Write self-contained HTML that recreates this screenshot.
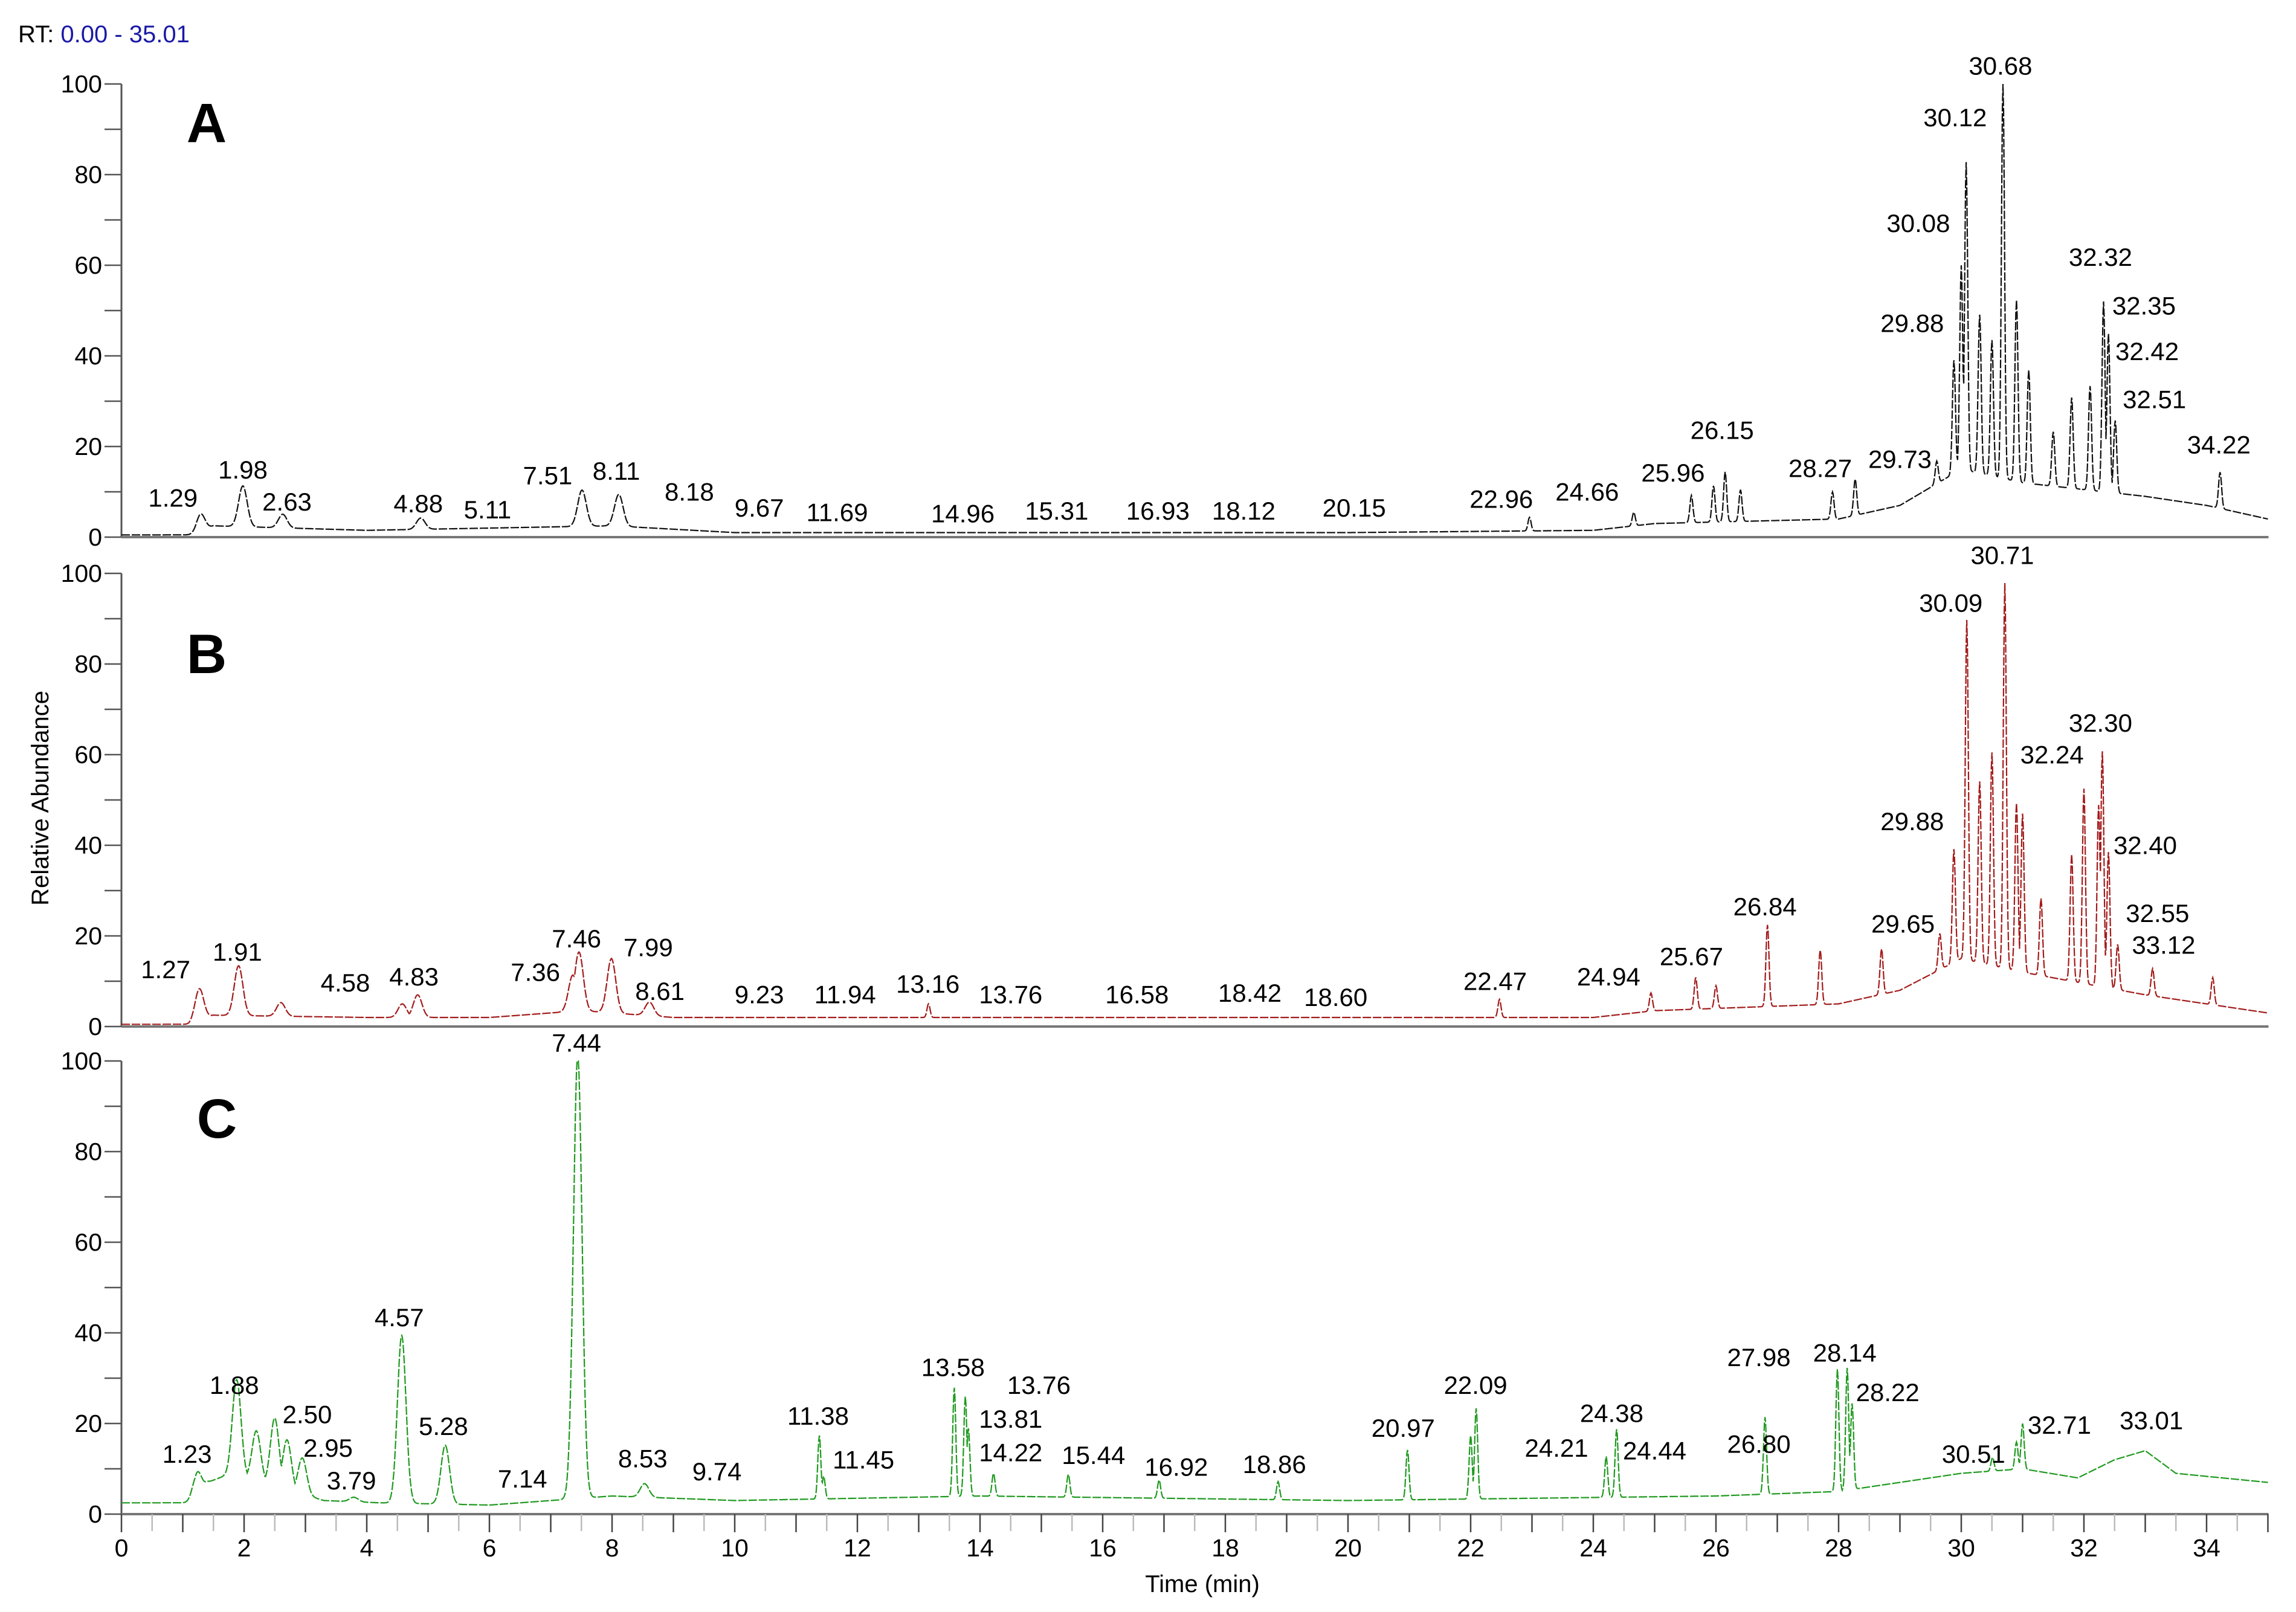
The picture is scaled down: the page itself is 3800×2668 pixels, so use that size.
<!DOCTYPE html>
<html><head><meta charset="utf-8"><style>
html,body{margin:0;padding:0;background:#fff}
svg{display:block}
text{font-family:"Liberation Sans",sans-serif}
</style></head><body>
<svg id="chart" width="3800" height="2668" viewBox="0 0 3800 2668" xmlns="http://www.w3.org/2000/svg">
<text x="30" y="70" font-size="40" fill="#000">RT: <tspan fill="#1a1aa6">0.00 - 35.01</tspan></text>
<text transform="translate(80,1321) rotate(-90)" text-anchor="middle" font-size="40">Relative Abundance</text>
<text x="1990" y="2635" text-anchor="middle" font-size="40">Time (min)</text>
<g id="plots"></g>
</svg>
<script>
// Panel A (black)
const peaksA_t=[1.29,1.98,2.63,4.88,7.51,8.11,22.96,24.66,25.6,25.96,26.15,26.4,27.9,28.27,29.6,29.88,30.0,30.08,30.3,30.5,30.68,30.9,31.1,31.5,31.8,32.1,32.32,32.4,32.51,34.22];
const peaksA_h=[4,9,3,2.5,8,7,3,3,6,8,11,7,6,8,5,25,45,68,35,30,88,40,25,12,20,23,42,35,16,8];
const baseA_t=[0,1.2,1.5,4,8,10,20,24,25,28,29,30,31,33,34,35];
const baseA_v=[0.5,0.5,2.5,1.5,2.5,1,1,1.5,3,4,7,15,12,9,7,4];
const labelsA=["1.29","1.98","2.63","4.88","5.11","7.51","8.11","8.18","9.67","11.69","14.96","15.31","16.93","18.12","20.15","22.96","24.66","25.96","26.15","28.27","29.73","29.88","30.08","30.12","30.68","32.32","32.35","32.42","32.51","34.22"];
const labelsA_t=[0.84,1.98,2.70,4.84,5.97,6.95,8.07,9.26,10.4,11.67,13.72,15.25,16.9,18.3,20.1,22.5,23.9,25.3,26.1,27.7,29.0,29.2,29.3,29.9,30.64,32.27,32.98,33.03,33.15,34.2];
const labelsA_v=[8.7,14.9,7.8,7.4,6.1,13.6,14.6,10.0,6.5,5.5,5.2,5.8,5.8,5.8,6.5,8.4,10.0,14.2,23.6,15.2,17.2,47.2,69.3,92.6,104,61.8,51.1,41,30.4,20.4];
// Panel B (red)
const peaksB_t=[1.27,1.91,2.6,4.58,4.83,7.36,7.46,7.99,8.61,13.16,22.47,24.94,25.67,26.0,26.84,27.7,28.7,29.65,29.88,30.09,30.3,30.5,30.71,30.9,31.0,31.3,31.8,32.0,32.24,32.30,32.40,32.55,33.12,34.1];
const peaksB_h=[7,11,3,3,5,8,13,12,3,3,4,4,7,5,18,12,10,8,25,75,40,47,85,37,35,17,28,43,40,52,30,10,6,6];
const baseB_t=[0,1.1,1.5,4,6,7.5,9,20,24,25,28,29,30,31,33,35];
const baseB_v=[0.5,0.5,2.5,2,2,3.5,2,2,2,3.5,5,8,15,12,7,3];
const labelsB=["1.27","1.91","4.58","4.83","7.36","7.46","7.99","8.61","9.23","11.94","13.16","13.76","16.58","18.42","18.60","22.47","24.94","25.67","26.84","29.65","29.88","30.09","30.71","32.30","32.24","32.40","32.55","33.12"];
const labelsB_t=[0.72,1.89,3.65,4.77,6.75,7.42,8.59,8.78,10.4,11.8,13.15,14.5,16.56,18.4,19.8,22.4,24.25,25.6,26.8,29.05,29.2,29.83,30.67,32.27,31.48,33.0,33.2,33.3];
const labelsB_v=[12.6,16.5,9.7,11,12,19.4,17.5,7.8,7.1,7.1,9.4,7.1,7.1,7.4,6.5,10,11,15.5,26.5,22.7,45.3,93.5,104,67,60,40,25,18];
// Panel C (green)
const peaksC_t=[1.23,1.88,2.2,2.5,2.7,2.95,3.79,4.57,5.28,7.44,8.53,11.38,11.45,13.58,13.76,13.81,14.22,15.44,16.92,18.86,20.97,22.0,22.09,24.21,24.38,26.80,27.98,28.14,28.22,30.51,30.9,31.0];
const peaksC_h=[6,21,11,15,11,8,1,37,13,98,3,14,5,24,22,15,5,5,4,4,11,14,20,9,15,17,27,27,19,3,6,10];
const baseC_t=[0,1.2,1.4,1.8,3.3,4.2,6,8,10,14,20,26,28,30,31,31.9,32.5,33,33.5,35];
const baseC_v=[2.5,2.5,7,9,3,2.5,2,4,3,4,3,4,5,9,10,8,12,14,9,7];
const labelsC=["1.23","1.88","2.50","2.95","3.79","4.57","5.28","7.14","7.44","8.53","9.74","11.38","11.45","13.58","13.76","13.81","14.22","15.44","16.92","18.86","20.97","22.09","24.21","24.38","24.44","26.80","27.98","28.14","28.22","30.51","32.71","33.01"];
const labelsC_t=[1.07,1.84,3.03,3.37,3.75,4.53,5.25,6.54,7.42,8.5,9.71,11.36,12.1,13.56,14.96,14.5,14.5,15.85,17.2,18.8,20.9,22.08,23.4,24.3,25.0,26.7,26.7,28.1,28.8,30.2,31.6,33.1];
const labelsC_v=[13.3,28.5,22,14.6,7.4,43.4,19.4,7.8,104,12.3,9.4,21.7,12,32.4,28.5,21,13.6,13,10.4,11,19,28.5,14.6,22.3,14,15.5,34.6,35.6,26.9,13.3,19.7,20.7];

const yTicks=[0,20,40,60,80,100];
const xTicks=[0,2,4,6,8,10,12,14,16,18,20,22,24,26,28,30,32,34];

const X0=201, PXM=101.5, YS=7.5, TMAX=35.01;
const NS='http://www.w3.org/2000/svg';
const g=document.getElementById('plots');
function xs(t){return X0+t*PXM;}
function mk(tag,attrs,parent){const e=document.createElementNS(NS,tag);for(const k in attrs)e.setAttribute(k,attrs[k]);(parent||g).appendChild(e);return e;}
function interp(ts,vs,t){if(t<=ts[0])return vs[0];for(let i=1;i<ts.length;i++){if(t<=ts[i]){const f=(t-ts[i-1])/(ts[i]-ts[i-1]);return vs[i-1]+f*(vs[i]-vs[i-1]);}}return vs[vs.length-1];}

const panels=[
 {name:'a',letter:'A',zero:889,color:'#111',pt:peaksA_t,ph:peaksA_h,bt:baseA_t,bv:baseA_v,lb:labelsA,lt:labelsA_t,lv:labelsA_v,lx:342,ly:204},
 {name:'b',letter:'B',zero:1699,color:'#a31b1b',pt:peaksB_t,ph:peaksB_h,bt:baseB_t,bv:baseB_v,lb:labelsB,lt:labelsB_t,lv:labelsB_v,lx:342,ly:1083},
 {name:'c',letter:'C',zero:2506,color:'#1f9a1f',pt:peaksC_t,ph:peaksC_h,bt:baseC_t,bv:baseC_v,lb:labelsC,lt:labelsC_t,lv:labelsC_v,lx:359,ly:1852}
];
panels.forEach(p=>{
  const pg=mk('g',{});
  
  
  const ys=v=>p.zero-v*YS;
  const ya=mk('line',{x1:X0,y1:ys(100),x2:X0,y2:p.zero,stroke:'#555','stroke-width':3},pg);
  
  
  const xa=mk('line',{x1:X0,y1:p.zero,x2:xs(TMAX),y2:p.zero,stroke:'#777','stroke-width':4},pg);
  
  
  for(let v=0;v<=100;v+=10){
    mk('line',{x1:X0-28,y1:ys(v),x2:X0,y2:ys(v),stroke:'#555','stroke-width':2.5},pg);
  }
  yTicks.forEach(v=>{
    const t=mk('text',{x:X0-32,y:ys(v),'text-anchor':'end','dominant-baseline':'central','font-size':41},pg);
    t.textContent=v;
    
    
  });
  const L=mk('text',{x:p.lx,y:p.ly,'text-anchor':'middle','dominant-baseline':'central','font-size':92,'font-weight':'bold','font-family':'"Liberation Serif",serif'},pg);
  L.textContent=p.letter;
  
  
  let pts=[];
  for(let t=0;t<=TMAX;t+=0.01){
    let b=interp(p.bt,p.bv,t);let m=0;
    for(let i=0;i<p.pt.length;i++){
      const w=p.pt[i]<10?0.07:0.025;
      const d=(t-p.pt[i])/w;
      const v=p.ph[i]*Math.exp(-0.5*d*d);
      if(v>m)m=v;
    }
    pts.push(xs(t).toFixed(1)+','+ys(Math.min(100,b+m)).toFixed(1));
  }
  const pl=mk('polyline',{points:pts.join(' '),fill:'none',stroke:p.color,'stroke-width':2.2,'stroke-dasharray':'14 3'},pg);
  
  
  p.lb.forEach((s,i)=>{
    const t=mk('text',{x:xs(p.lt[i]),y:ys(p.lv[i]),'text-anchor':'middle','dominant-baseline':'central','font-size':42},pg);
    t.textContent=s;
    
    
  });
});
const zc=2506;
for(let t=0;t<=35;t+=0.5){
  const major=Math.abs(t-Math.round(t))<1e-6;
  mk('line',{x1:xs(t),y1:zc,x2:xs(t),y2:zc+(major?30:28),stroke:major?'#444':'#bbb','stroke-width':2.5});
}
xTicks.forEach(v=>{
  const t=mk('text',{x:xs(v),y:2562,'text-anchor':'middle','dominant-baseline':'central','font-size':41});
  t.textContent=v;
  
  
});
</script>
</body></html>
